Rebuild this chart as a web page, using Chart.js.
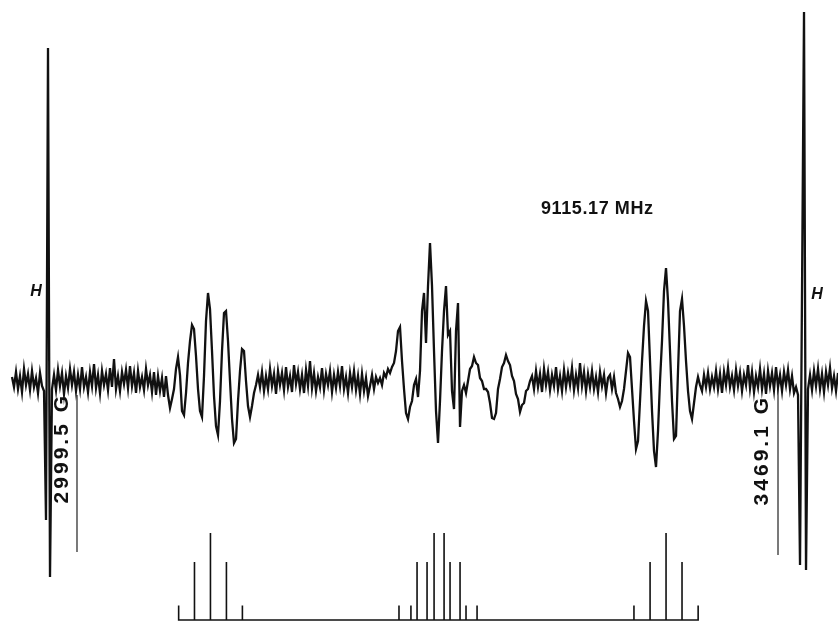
<!DOCTYPE html>
<html><head><meta charset="utf-8">
<script src="https://cdn.jsdelivr.net/npm/chart.js@4.4.1/dist/chart.umd.min.js"></script>
<style>html,body{margin:0;padding:0;background:#fff;}#wrap{width:838px;height:623px;}</style>
</head><body><div id="wrap"><canvas id="c" width="838" height="623"></canvas></div>
<script>
// Magnetic field range shown (G)
const fieldMin = 2947.92, fieldMax = 3509.29;
// Recorded trace: uniformly sampled derivative spectrum
const traceStart = 2955.96, traceStep = 1.3398;
const traceIntensity = [
  4,-6,9,-8,5,-11,12,-4,7,-9,10,-6,3,-12,8,-5,
  -10,-139,333,-196,-8,
  6,-9,11,-5,8,-13,5,-7,12,-4, 9,-10,6,-8,14,-6,4,-11,9,-5, 17,-7,6,-12,10,-4,7,-9,13,-6,
  22,-8,5,-10,9,-3,11,-7,15,-5, 8,-12,10,-6,4,-9,12,-4,6,-11, 9,-14,5,-10,3,-16,
  5,-14,-27,-18,-8,12,24,6,-30,-34, -12,18,40,56,52,25,-8,-30,-36,5,
  60,88,72,30,-15,-45,-54,-20,30,68, 70,40,0,-38,-62,-58,-20,10,32,30, 0,-25,-36,-25,-12,-4,6,
  -6,9,-10,5,-8,12,-5,7,-13,10, -4,8,-9,14,-6,5,-11,16,-3,9, -8,6,-12,11,-5,20,-7,8,-10,4,
  -6,13,-9,7,-4,10,-11,6,-7,9, -5,15,-8,4,-12,8,-6,10,-9,5, -13,7,-10,3,-15,
  -5,6,-8,4,-2,3,-4,8,4,12, 8,14,18,30,50,54,20,-8,-32,-38,
  -26,-20,-4,2,-16,10,70,88,38,95, 138,95,30,-30,-62,-20,30,70,95,46,
  50,-10,-28,50,78,-46,-10,-4,-12,0, 12,15,24,18,16,3,0,-8,-8,-11,
  -22,-37,-38,-32,-8,2,14,18,26,20, 16,5,0,-13,-18,-31,-24,-22,-10,-8, 0,
  5,-8,10,-6,7,-11,12,-4,9,-9, 6,-5,14,-8,5,-10,11,-6,8,-4, 13,-9,6,-7,18,-5,9,-10,7,-6, 10,-8,4,-11,9,-5,6,-12,3,
  6,-8,4,-12,-18,-26,-20,-8,10,28, 24,-8,-40,-68,-60,-20,20,55,80,70,
  20,-30,-70,-86,-50,0,40,90,113,80, 30,-20,-58,-55,10,70,82,55,20,-10,
  -30,-38,-22,-6,4,-4,-10,6,-6,8, -8,4,
  -6,10,-8,7,-12,9,-4,13,-6,5, -9,11,-5,8,-10,6,-4,16,-7,9, -11,5,-6,12,-8,7,-13,10,-5,8,
  -9,14,-6,6,-10,9,-4,11,-8,5, -12,-6,
  -14,-184,90,369,-189,-8,
  6,-9,10,-5,12,-8,7,-11,9,-4,13,-7,5,-10,8
];
// Field markers
const markerFields = [2999.5, 3469.1];
const markerLabels = ['2999.5 G', '3469.1 G'];
const markerTop = [-14, -4];
const markerBottom = [-171, -174];
// Stick (simulated) spectrum
const stickFields = [3067.6, 3078.2, 3088.9, 3099.6, 3110.3,
  3215.2, 3223.2, 3227.3, 3234.0, 3238.7, 3245.4, 3249.4, 3256.1, 3260.1, 3267.5,
  3372.6, 3383.4, 3394.1, 3404.8, 3415.6];
const stickHeights = [1, 4, 6, 4, 1,
  1, 1, 4, 4, 6, 6, 4, 4, 1, 1,
  1, 4, 6, 4, 1];
const frequencyLabel = '9115.17 MHz';
const fieldLabel = 'H';

const tracePoints = traceIntensity.map((v, i) => ({x: traceStart + i * traceStep, y: v}));
const stickPoints = [];
stickFields.forEach((f, i) => { stickPoints.push({x: f, y: 0}, {x: f, y: stickHeights[i]}, {x: f, y: 0}); });

const ink = '#111111';
const datasets = [
  {data: tracePoints, borderColor: ink, borderWidth: 2.3, yAxisID: 'y'},
  {data: stickPoints, borderColor: ink, borderWidth: 1.6, yAxisID: 'y2'}
];
markerFields.forEach((f, i) => {
  datasets.push({data: [{x: f, y: markerTop[i]}, {x: f, y: markerBottom[i]}], borderColor: '#333', borderWidth: 1.3, yAxisID: 'y'});
});

const textPlugin = {
  id: 'texts',
  afterDatasetsDraw(chart) {
    const ctx = chart.ctx, xs = chart.scales.x;
    ctx.save();
    ctx.fillStyle = ink;
    ctx.font = 'bold 18px "Liberation Sans", Arial, sans-serif';
    ctx.letterSpacing = '0.6px';
    ctx.textBaseline = 'middle';
    ctx.textAlign = 'left';
    ctx.fillText(frequencyLabel, 541, 209);
    const offs = [-15, -16];
    const tops = [393, 395];
    markerFields.forEach((f, i) => {
      const px = xs.getPixelForValue(f);
      ctx.save();
      ctx.translate(px + offs[i], tops[i]);
      ctx.rotate(-Math.PI / 2);
      ctx.font = 'bold 21px "Liberation Sans", Arial, sans-serif';
      ctx.letterSpacing = '3px';
      ctx.textAlign = 'right';
      ctx.textBaseline = 'middle';
      ctx.fillText(markerLabels[i], 0, 0);
      ctx.restore();
    });
    ctx.font = 'italic bold 16px "Liberation Sans", Arial, sans-serif';
    ctx.letterSpacing = '0px';
    ctx.textAlign = 'center';
    ctx.textBaseline = 'middle';
    ctx.fillText(fieldLabel, 36, 292);
    ctx.fillText(fieldLabel, 817, 295);
    ctx.restore();
  }
};

new Chart(document.getElementById('c'), {
  type: 'line',
  data: {datasets},
  options: {
    responsive: false, animation: false, devicePixelRatio: 1,
    layout: {padding: 0},
    elements: {point: {radius: 0}, line: {tension: 0}},
    plugins: {legend: {display: false}, tooltip: {enabled: false}},
    scales: {
      x: {type: 'linear', min: fieldMin, max: fieldMax, display: false},
      y: {min: -242, max: 381, display: false},
      y2: {min: -0.207, max: 42.76, display: false}
    }
  },
  plugins: [textPlugin]
});
</script>
</body></html>
